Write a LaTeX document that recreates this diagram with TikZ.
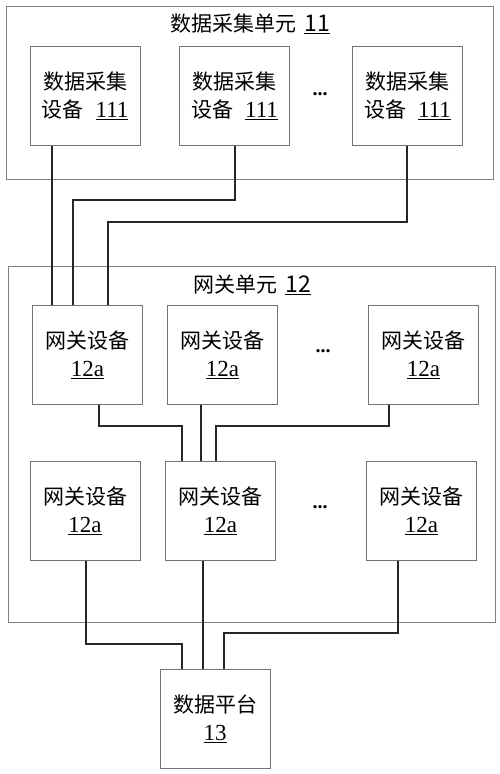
\documentclass[tikz,border=0pt]{standalone}
\usepackage{fontspec}
\setmainfont{Liberation Serif}
\newfontfamily\cjk{Noto Sans CJK SC}
\newcommand{\refnum}[1]{{\fontsize{23}{28}\selectfont\underline{#1}}}
\begin{document}
\begin{tikzpicture}[x=1pt,y=-1pt,
  unitbox/.style={draw=black!50, line width=1pt},
  devbox/.style={draw=black!55, line width=1pt, minimum width=110pt, minimum height=99pt,
    inner sep=0pt, align=center, font=\fontsize{21}{28}\selectfont},
  title/.style={font=\fontsize{21}{24}\selectfont, inner sep=0pt},
  conn/.style={draw=black!85, line width=1.1pt},
  dots/.style={font=\fontsize{20}{24}\selectfont\bfseries, inner sep=0pt}]
\useasboundingbox (0,0) rectangle (500,774);
% unit boxes
\draw[unitbox] (6,6) rectangle (493,179);
\node[title] (t11) at (250,24) {\cjk 数据采集单元\hspace{8pt}\refnum{11}};
\draw[unitbox] (8,266) rectangle (495,622);
\node[title] (t12) at (252,285) {\cjk 网关单元\hspace{8pt}\refnum{12}};
% data collection devices
\node[devbox] (d1) at (85,95.5) {{\cjk 数据采集}\\{\cjk 设备}\hspace{12pt}\refnum{111}};
\node[devbox] (d2) at (234.5,95.5) {{\cjk 数据采集}\\{\cjk 设备}\hspace{12pt}\refnum{111}};
\node[devbox] (d3) at (407.5,95.5) {{\cjk 数据采集}\\{\cjk 设备}\hspace{12pt}\refnum{111}};
\node[dots] (e1) at (320,94) {...};
% gateways top row
\node[devbox] (gA) at (87.5,354.5) {{\cjk 网关设备}\\\refnum{12a}};
\node[devbox] (gB) at (222.5,354.5) {{\cjk 网关设备}\\\refnum{12a}};
\node[devbox] (gC) at (423.5,354.5) {{\cjk 网关设备}\\\refnum{12a}};
\node[dots] (e2) at (323,351) {...};
% gateways bottom row
\node[devbox] (gD) at (85,510.5) {{\cjk 网关设备}\\\refnum{12a}};
\node[devbox] (gE) at (220.5,510.5) {{\cjk 网关设备}\\\refnum{12a}};
\node[devbox] (gF) at (421.5,510.5) {{\cjk 网关设备}\\\refnum{12a}};
\node[dots] (e3) at (320,507) {...};
% platform
\node[devbox] (p) at (215,718.5) {{\cjk 数据平台}\\\refnum{13}};
% x positions
\coordinate (x52) at (52,0);
\coordinate (x73) at (73,0);
\coordinate (x108) at (108,0);
\coordinate (x235) at (235,0);
\coordinate (x407) at (407,0);
\coordinate (x99) at (99,0);
\coordinate (x182) at (182,0);
\coordinate (x201) at (201,0);
\coordinate (x216) at (216,0);
\coordinate (x389) at (389,0);
\coordinate (x86) at (86,0);
\coordinate (x203) at (203,0);
\coordinate (x224) at (224,0);
\coordinate (x398) at (398,0);
% connectors devices -> gateway A
\draw[conn] (d1.south -| x52) -- (gA.north -| x52);
\draw[conn] (d2.south -| x235) -- (235,200) -- (73,200) -- (gA.north -| x73);
\draw[conn] (d3.south -| x407) -- (407,222) -- (108,222) -- (gA.north -| x108);
% top row -> gateway E
\draw[conn] (gA.south -| x99) -- (99,426) -- (182,426) -- (gE.north -| x182);
\draw[conn] (gB.south -| x201) -- (gE.north -| x201);
\draw[conn] (gC.south -| x389) -- (389,426) -- (216,426) -- (gE.north -| x216);
% bottom row -> platform
\draw[conn] (gD.south -| x86) -- (86,644) -- (182,644) -- (p.north -| x182);
\draw[conn] (gE.south -| x203) -- (p.north -| x203);
\draw[conn] (gF.south -| x398) -- (398,633) -- (224,633) -- (p.north -| x224);
\end{tikzpicture}
\end{document}
